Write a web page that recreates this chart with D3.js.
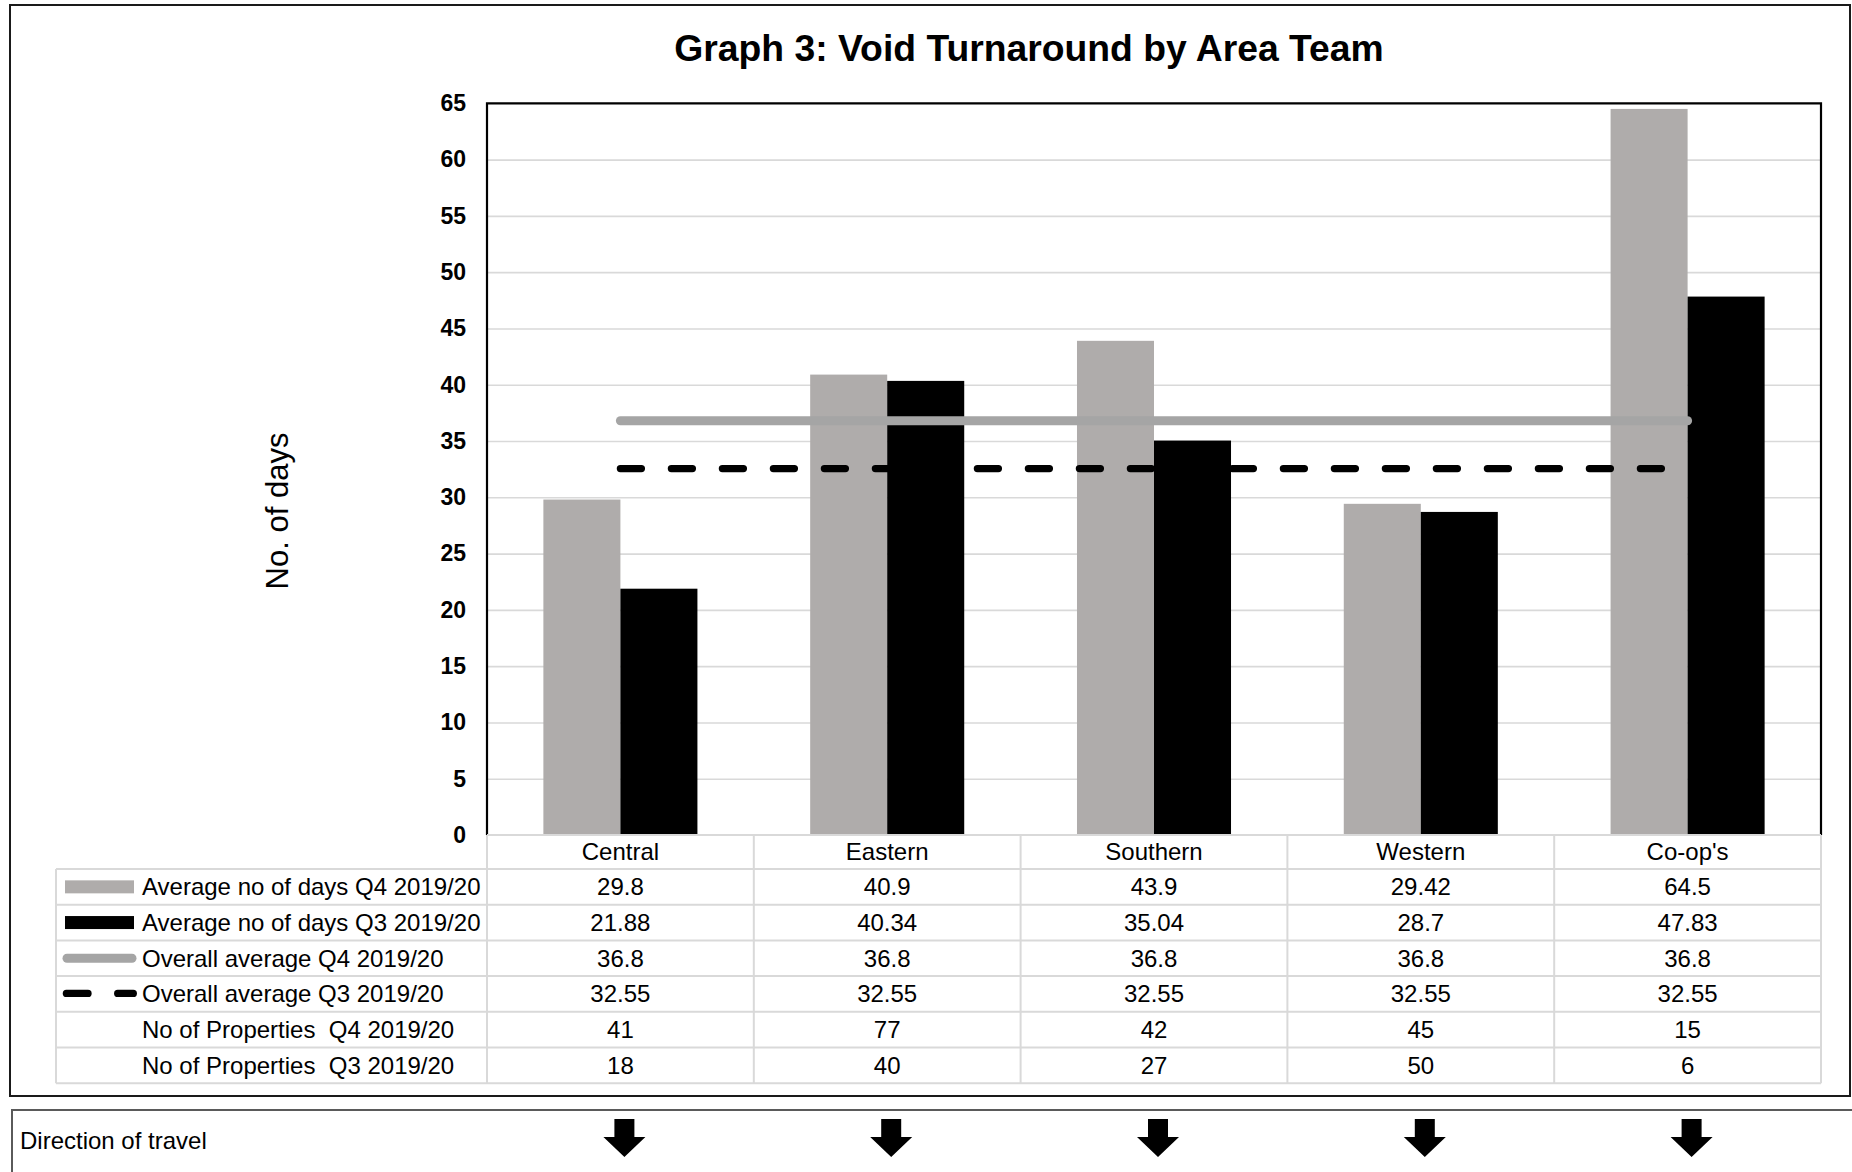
<!DOCTYPE html>
<html>
<head>
<meta charset="utf-8">
<script src="https://cdn.jsdelivr.net/npm/d3@7"></script>
<style>
  html, body { margin: 0; padding: 0; background: #fff; }
  svg { display: block; font-family: "Liberation Sans", Arial, sans-serif; }
</style>
</head>
<body>
<svg id="chart" width="1852" height="1172"></svg>
<script>
// ---- data ----
const categories = ["Central", "Eastern", "Southern", "Western", "Co-op's"];
const avgQ4 = [29.8, 40.9, 43.9, 29.42, 64.5];
const avgQ3 = [21.88, 40.34, 35.04, 28.7, 47.83];
const overallQ4 = [36.8, 36.8, 36.8, 36.8, 36.8];
const overallQ3 = [32.55, 32.55, 32.55, 32.55, 32.55];
const propsQ4 = [41, 77, 42, 45, 15];
const propsQ3 = [18, 40, 27, 50, 6];
const yTicks = [0, 5, 10, 15, 20, 25, 30, 35, 40, 45, 50, 55, 60, 65];
const seriesNames = [
  "Average no of days Q4 2019/20",
  "Average no of days Q3 2019/20",
  "Overall average Q4 2019/20",
  "Overall average Q3 2019/20",
  "No of Properties  Q4 2019/20",
  "No of Properties  Q3 2019/20"
];
const titleText = "Graph 3: Void Turnaround by Area Team";
const yLabel = "No. of days";
const directionLabel = "Direction of travel";

// ---- layout ----
const L = 487, R = 1821, T = 103.3, B = 835;
const tableLeft = 56;
const headerH = 34;
const rowH = 35.7;
const GRAY = "#afacab", LINEGRAY = "#a5a5a5", GRID = "#d9d9d9";

const svg = d3.select("#chart");

// outer chart border
svg.append("rect").attr("x", 10).attr("y", 5).attr("width", 1840).attr("height", 1091)
  .attr("fill", "none").attr("stroke", "#1a1a1a").attr("stroke-width", 2);
// direction of travel box
svg.append("rect").attr("x", 12).attr("y", 1110).attr("width", 1860).attr("height", 100)
  .attr("fill", "none").attr("stroke", "#5a5a5a").attr("stroke-width", 2);

// title
svg.append("text").attr("x", 1029).attr("y", 61).attr("text-anchor", "middle")
  .attr("font-size", 37.3).attr("font-weight", "bold").attr("fill", "#000").text(titleText);

// scales
const x = d3.scaleBand().domain(categories).range([L, R]).paddingInner(0).paddingOuter(0);
const x1 = d3.scaleBand().domain(["q4", "q3"]).range([0, x.bandwidth()]).paddingInner(0).paddingOuter(0.732);
const y = d3.scaleLinear().domain([0, 65]).range([B, T]);

// gridlines
const grid = svg.append("g").attr("transform", `translate(${L},0)`)
  .call(d3.axisLeft(y).tickValues(yTicks.filter(v => v > 0 && v < 65)).tickSize(-(R - L)).tickFormat(""));
grid.select(".domain").remove();
grid.selectAll("line").attr("stroke", GRID).attr("stroke-width", 1.6);

// y axis labels
const yAxis = svg.append("g").attr("transform", `translate(${L},0)`)
  .call(d3.axisLeft(y).tickValues(yTicks).tickSize(0).tickPadding(21));
yAxis.select(".domain").remove();
yAxis.selectAll("text").attr("font-size", 23).attr("font-weight", "bold")
  .attr("font-family", "'Liberation Sans', Arial, sans-serif").attr("fill", "#000");

// y label
svg.append("text").attr("transform", `translate(288,511) rotate(-90)`).attr("text-anchor", "middle")
  .attr("font-size", 31).attr("fill", "#000").text(yLabel);

// bars
const barG = svg.append("g");
categories.forEach((c, i) => {
  barG.append("rect").attr("x", x(c) + x1("q4")).attr("y", y(avgQ4[i]))
    .attr("width", x1.bandwidth()).attr("height", y(0) - y(avgQ4[i])).attr("fill", GRAY);
  barG.append("rect").attr("x", x(c) + x1("q3")).attr("y", y(avgQ3[i]))
    .attr("width", x1.bandwidth()).attr("height", y(0) - y(avgQ3[i])).attr("fill", "#000");
});

// average lines
const line = d3.line().x((d, i) => x(categories[i]) + x.bandwidth() / 2).y(d => y(d));
svg.append("path").datum(overallQ4).attr("d", line).attr("fill", "none")
  .attr("stroke", LINEGRAY).attr("stroke-width", 9).attr("stroke-linecap", "round");
svg.append("path").datum(overallQ3).attr("d", line).attr("fill", "none")
  .attr("stroke", "#000").attr("stroke-width", 7.3).attr("stroke-linecap", "round")
  .attr("stroke-dasharray", "21,30");

// plot border (top, left, right)
svg.append("path").attr("d", `M${L},${B} V${T} H${R} V${B}`).attr("fill", "none")
  .attr("stroke", "#000").attr("stroke-width", 2.2);

// ---- data table ----
const tbl = svg.append("g");
const rowsTop = B + headerH;
const tableBottom = rowsTop + rowH * 6;
// horizontal lines
tbl.append("line").attr("x1", L).attr("x2", R).attr("y1", B).attr("y2", B);
for (let r = 0; r <= 6; r++) {
  tbl.append("line").attr("x1", tableLeft).attr("x2", R)
    .attr("y1", rowsTop + r * rowH).attr("y2", rowsTop + r * rowH);
}
// vertical lines
tbl.append("line").attr("x1", tableLeft).attr("x2", tableLeft).attr("y1", rowsTop).attr("y2", tableBottom);
categories.forEach(c => {
  tbl.append("line").attr("x1", x(c)).attr("x2", x(c)).attr("y1", B).attr("y2", tableBottom);
});
tbl.append("line").attr("x1", R).attr("x2", R).attr("y1", B).attr("y2", tableBottom);
tbl.selectAll("line").attr("stroke", GRID).attr("stroke-width", 2);

// header
categories.forEach(c => {
  tbl.append("text").attr("x", x(c) + x.bandwidth() / 2).attr("y", B + headerH / 2)
    .attr("dy", "0.35em").attr("text-anchor", "middle").attr("font-size", 24).attr("fill", "#000").text(c);
});

const rowsData = [avgQ4, avgQ3, overallQ4, overallQ3, propsQ4, propsQ3];
rowsData.forEach((vals, r) => {
  const cy = rowsTop + r * rowH + rowH / 2;
  tbl.append("text").attr("x", 142).attr("y", cy).attr("dy", "0.35em")
    .attr("font-size", 24).attr("fill", "#000").style("white-space", "pre").text(seriesNames[r]);
  vals.forEach((v, i) => {
    tbl.append("text").attr("x", x(categories[i]) + x.bandwidth() / 2).attr("y", cy).attr("dy", "0.35em")
      .attr("text-anchor", "middle").attr("font-size", 24).attr("fill", "#000").text(String(v));
  });
});

// legend keys
const cy0 = rowsTop + rowH / 2;
tbl.append("rect").attr("x", 65).attr("y", cy0 - 6.5).attr("width", 69).attr("height", 13).attr("fill", GRAY);
tbl.append("rect").attr("x", 65).attr("y", cy0 + rowH - 6.5).attr("width", 69).attr("height", 13).attr("fill", "#000");
tbl.append("line").attr("x1", 67).attr("x2", 132).attr("y1", cy0 + 2 * rowH).attr("y2", cy0 + 2 * rowH)
  .attr("stroke", LINEGRAY).attr("stroke-width", 9).attr("stroke-linecap", "round");
[[66.4, 88], [117.7, 133.3]].forEach(([a, b]) => {
  tbl.append("line").attr("x1", a).attr("x2", b).attr("y1", cy0 + 3 * rowH - 0.5).attr("y2", cy0 + 3 * rowH - 0.5)
    .attr("stroke", "#000").attr("stroke-width", 7.3).attr("stroke-linecap", "round");
});

// direction of travel
svg.append("text").attr("x", 20).attr("y", 1149).attr("font-size", 24).attr("fill", "#000").text(directionLabel);
const arrow = "M-10,0 H10 V18 H21 L0,38 L-21,18 H-10 Z";
categories.forEach(c => {
  svg.append("path").attr("d", arrow)
    .attr("transform", `translate(${x(c) + x.bandwidth() / 2 + 4},1119)`).attr("fill", "#000");
});
</script>
</body>
</html>
